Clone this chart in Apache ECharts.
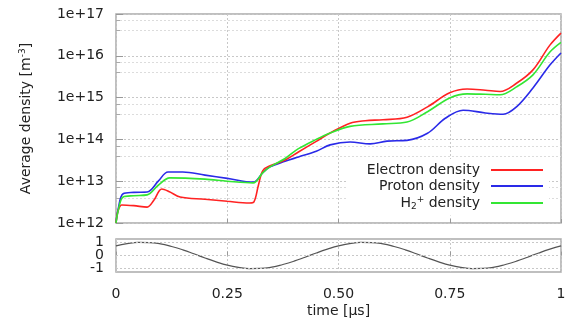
<!DOCTYPE html>
<html>
<head>
<meta charset="utf-8">
<script src="https://cdn.jsdelivr.net/npm/echarts@6/dist/echarts.min.js"></script>
<style>
  html, body { margin: 0; padding: 0; background: #fff; }
  #chart { width: 569px; height: 320px; }
</style>
</head>
<body>
<div id="chart"></div>
<script>
// time in microseconds, densities in m^-3
var electronT = [0, 0.005, 0.013, 0.04, 0.07, 0.085, 0.103, 0.12, 0.144, 0.2, 0.25, 0.3, 0.31, 0.32, 0.33, 0.345, 0.38, 0.41, 0.45, 0.48, 0.526, 0.56, 0.6, 0.654, 0.7, 0.75, 0.789, 0.83, 0.863, 0.9, 0.937, 0.975, 1.0];
var electronN = [1.0e12, 2.0e12, 2.7e12, 2.6e12, 2.4e12, 3.5e12, 6.5e12, 5.6e12, 4.2e12, 3.7e12, 3.3e12, 3.0e12, 3.2e12, 8e12, 1.8e13, 2.3e13, 3.2e13, 5e13, 9e13, 1.4e14, 2.45e14, 2.8e14, 2.95e14, 3.4e14, 6e14, 1.3e15, 1.6e15, 1.5e15, 1.4e15, 2.2e15, 4.6e15, 1.8e16, 3.5e16];

var protonT = [0, 0.005, 0.016, 0.04, 0.07, 0.095, 0.117, 0.15, 0.2, 0.25, 0.308, 0.33, 0.346, 0.38, 0.41, 0.45, 0.481, 0.526, 0.571, 0.609, 0.654, 0.7, 0.74, 0.78, 0.83, 0.87, 0.9, 0.937, 0.975, 1.0];
var protonN = [1.0e12, 2.2e12, 5e12, 5.4e12, 5.5e12, 1e13, 1.66e13, 1.66e13, 1.4e13, 1.17e13, 9.5e12, 1.6e13, 2.2e13, 3e13, 3.8e13, 5.2e13, 7.4e13, 8.7e13, 7.8e13, 9.1e13, 9.5e13, 1.4e14, 3.2e14, 5e14, 4.3e14, 4e14, 6e14, 1.7e15, 6e15, 1.17e16];

var h2T = [0, 0.005, 0.016, 0.04, 0.07, 0.095, 0.121, 0.2, 0.25, 0.308, 0.33, 0.346, 0.38, 0.41, 0.45, 0.48, 0.526, 0.6, 0.654, 0.7, 0.75, 0.789, 0.83, 0.863, 0.9, 0.937, 0.975, 1.0];
var h2N = [1.0e12, 2.0e12, 4.2e12, 4.5e12, 4.7e12, 8e12, 1.2e13, 1.12e13, 1.0e13, 9.1e12, 1.6e13, 2.2e13, 3.5e13, 6e13, 1e14, 1.4e14, 2.05e14, 2.35e14, 2.6e14, 4.6e14, 9.8e14, 1.23e15, 1.2e15, 1.17e15, 1.8e15, 3.5e15, 1.23e16, 2.1e16];

// voltage trace in the lower panel
var voltT = [0, 0.025, 0.05, 0.075, 0.1, 0.125, 0.15, 0.175, 0.2, 0.225, 0.25, 0.275, 0.3, 0.325, 0.35, 0.375, 0.4, 0.425, 0.45, 0.475, 0.5, 0.525, 0.55, 0.575, 0.6, 0.625, 0.65, 0.675, 0.7, 0.725, 0.75, 0.775, 0.8, 0.825, 0.85, 0.875, 0.9, 0.925, 0.95, 0.975, 1.0];
var voltV = [0.73, 0.90, 0.99, 0.98, 0.88, 0.68, 0.43, 0.13, -0.19, -0.48, -0.73, -0.90, -0.99, -0.98, -0.88, -0.68, -0.43, -0.13, 0.19, 0.48, 0.73, 0.90, 0.99, 0.98, 0.88, 0.68, 0.43, 0.13, -0.19, -0.48, -0.73, -0.90, -0.99, -0.98, -0.88, -0.68, -0.43, -0.13, 0.19, 0.48, 0.73];

var xTickLabels = ['0', '0.25', '0.50', '0.75', '1'];
var voltTicks = [-1, 0, 1];
var seriesNames = ['Electron density', 'Proton density', 'H2+ density'];

function pairs(xs, ys) {
  return xs.map(function (x, i) { return [x, ys[i]]; });
}

var font = 'DejaVu Sans';
var txt = '#222';
var gridCol = '#c8c8c8';

var option = {
  backgroundColor: '#fff',
  animation: false,
  textStyle: { fontFamily: font },
  grid: [
    { left: 116, right: 8, top: 14, height: 209, show: true, borderColor: '#aaa', borderWidth: 1.5 },
    { left: 116, right: 8, top: 239, height: 33, show: true, borderColor: '#aaa', borderWidth: 1.5 }
  ],
  legend: {
    orient: 'vertical',
    right: 20,
    top: 159,
    align: 'right',
    padding: [4, 6, 4, 20],
    backgroundColor: '#fff',
    icon: 'rect',
    itemWidth: 52,
    itemHeight: 2,
    itemGap: 2,
    data: seriesNames,
    formatter: function (name) {
      if (name === 'H2+ density') return '{t|H}{sub|2}{sup|+}{e| density}';
      return '{e|' + name + '}';
    },
    textStyle: {
      fontFamily: font,
      fontSize: 14,
      color: txt,
      rich: {
        t: { fontFamily: font, fontSize: 14, color: txt, lineHeight: 17 },
        e: { fontFamily: font, fontSize: 14, color: txt, lineHeight: 17, padding: [0, 6, 0, 0] },
        sub: { fontFamily: font, fontSize: 9, color: txt, padding: [8, 0, 0, 0] },
        sup: { fontFamily: font, fontSize: 9, color: txt, padding: [0, 0, 7, 0] }
      }
    }
  },
  xAxis: [
    {
      gridIndex: 0, type: 'value', min: 0, max: 1, interval: 0.25,
      axisLine: { show: false },
      axisTick: { inside: true, length: 4, lineStyle: { color: '#999' } },
      axisLabel: { show: false },
      splitLine: { show: true, lineStyle: { color: gridCol, type: [2, 2] } }
    },
    {
      gridIndex: 1, type: 'value', min: 0, max: 1, interval: 0.25,
      axisLine: { show: false },
      axisTick: { inside: true, length: 4, lineStyle: { color: '#999' } },
      axisLabel: {
        margin: 15, fontSize: 14, color: txt, fontFamily: font,
        formatter: function (v) { return xTickLabels[Math.round(v / 0.25)]; }
      },
      splitLine: { show: true, lineStyle: { color: gridCol, type: [2, 2] } },
      name: 'time [\u03bcs]',
      nameLocation: 'middle',
      nameGap: 32,
      nameTextStyle: { fontSize: 14, color: txt, fontFamily: font }
    }
  ],
  yAxis: [
    {
      gridIndex: 0, type: 'log', logBase: 10, min: 1e12, max: 1e17,
      axisLine: { show: false },
      axisTick: { inside: true, length: 7, lineStyle: { color: '#999' } },
      minorTick: { show: true, splitNumber: 3, length: 4, lineStyle: { color: '#aaa' } },
      axisLabel: {
        margin: 12, fontSize: 14, color: txt, fontFamily: font,
        formatter: function (v) { return '1e+' + Math.round(Math.log10(v)); }
      },
      splitLine: { show: true, lineStyle: { color: gridCol, type: [2, 2] } },
      minorSplitLine: { show: true, lineStyle: { color: '#dcdcdc', type: [2, 2] } },
      name: '{a|Average density [m}{s|-3}{a|]}',
      nameLocation: 'middle',
      nameRotate: 90,
      nameGap: 82,
      nameTextStyle: {
        rich: {
          a: { fontSize: 14, color: txt, fontFamily: font },
          s: { fontSize: 9, color: txt, fontFamily: font, padding: [0, 0, 7, 0] }
        }
      }
    },
    {
      gridIndex: 1, type: 'value', min: -1.25, max: 1.25, interval: 0.25,
      axisLine: { show: false },
      axisTick: { show: false },
      axisLabel: {
        margin: 12, fontSize: 14, color: txt, fontFamily: font,
        hideOverlap: false,
        showMinLabel: false, showMaxLabel: false,
        formatter: function (v) {
          var r = Math.round(v);
          return (Math.abs(v - r) < 1e-6 && voltTicks.indexOf(r) >= 0) ? String(r) : '';
        }
      },
      splitLine: { show: false }
    }
  ],
  series: [
    {
      name: seriesNames[0], type: 'line', xAxisIndex: 0, yAxisIndex: 0,
      data: pairs(electronT, electronN), symbol: 'none', smooth: 0.35,
      lineStyle: { color: '#f22', width: 1.6 }, itemStyle: { color: '#f22' }, z: 4
    },
    {
      name: seriesNames[1], type: 'line', xAxisIndex: 0, yAxisIndex: 0,
      data: pairs(protonT, protonN), symbol: 'none', smooth: 0.35,
      lineStyle: { color: '#2a2ae8', width: 1.6 }, itemStyle: { color: '#2a2ae8' }, z: 3
    },
    {
      name: seriesNames[2], type: 'line', xAxisIndex: 0, yAxisIndex: 0,
      data: pairs(h2T, h2N), symbol: 'none', smooth: 0.35,
      lineStyle: { color: '#33e633', width: 1.6 }, itemStyle: { color: '#33e633' }, z: 5
    },
    {
      name: 'voltage', type: 'line', xAxisIndex: 1, yAxisIndex: 1,
      data: pairs(voltT, voltV), symbol: 'none', smooth: true,
      lineStyle: { color: '#555', width: 1.2 },
      markLine: {
        silent: true, symbol: 'none', label: { show: false },
        lineStyle: { color: gridCol, type: [2, 2], width: 1 },
        data: voltTicks.map(function (v) { return { yAxis: v }; })
      }
    }
  ]
};

var myChart = echarts.init(document.getElementById('chart'));
myChart.setOption(option);
</script>
</body>
</html>
